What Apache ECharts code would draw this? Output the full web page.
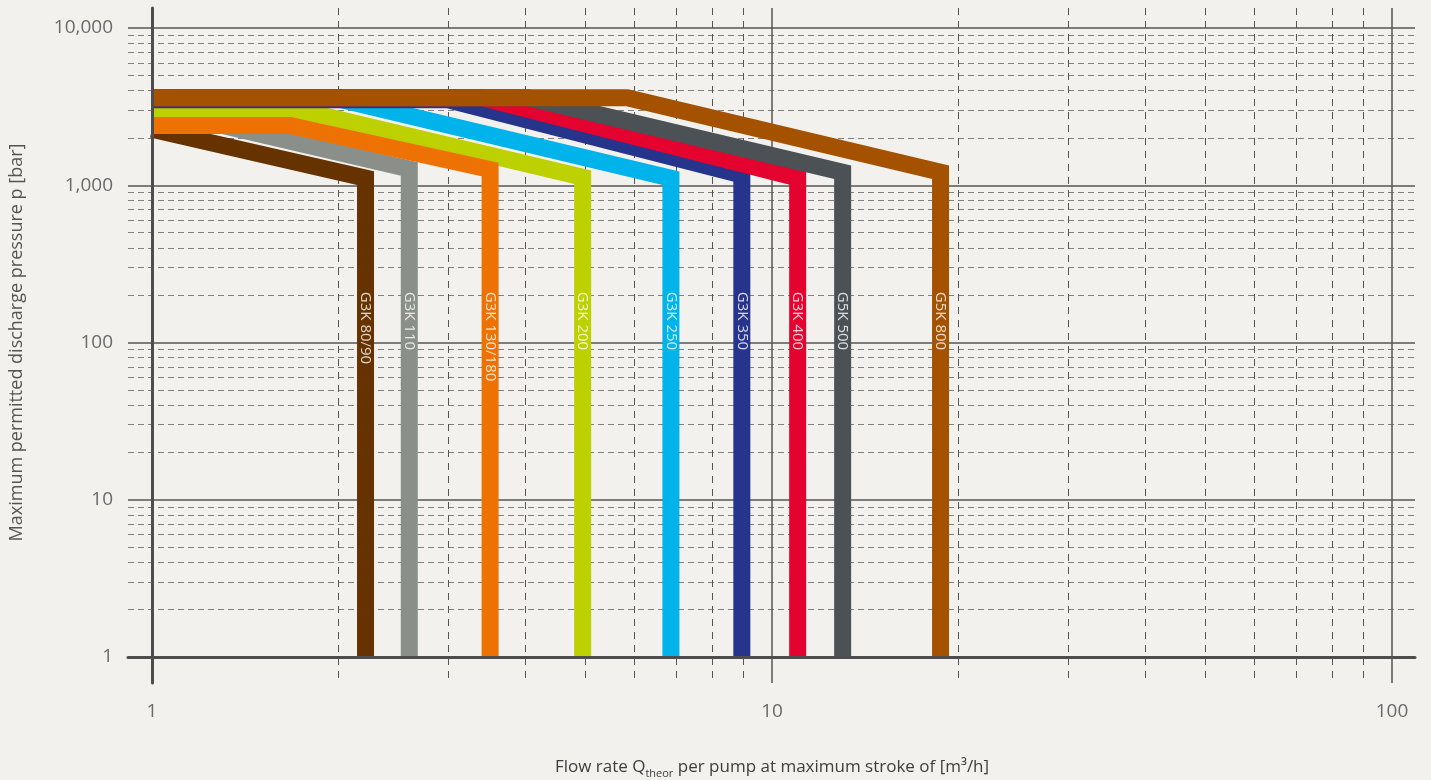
<!DOCTYPE html>
<html>
<head>
<meta charset="utf-8">
<script src="https://cdn.jsdelivr.net/npm/echarts@6/dist/echarts.min.js"></script>
<style>
html,body{margin:0;padding:0;background:#F2F1ED;}
#c{width:1431px;height:780px;}
</style>
</head>
<body>
<div id="c"></div>
<script>
// ---- data ----
const models = ['G3K 80/90', 'G3K 110', 'G3K 130/180', 'G3K 200', 'G3K 250', 'G3K 350', 'G3K 400', 'G5K 500', 'G5K 800'];
const startPressure = [2270, 2400, 2400, 2800, 3600, 3500, 3600, 3600, 3600];   // bar at Q = 1
const kneeFlow = [1, 1.3, 1.67, 1.87, 1.96, 3.0, 3.41, 4.04, 5.84];             // end of constant-pressure part
const maxFlow = [2.21, 2.6, 3.51, 4.95, 6.87, 8.94, 11.0, 13.0, 18.7];          // m3/h
const pressureAtMaxFlow = [1110, 1270, 1260, 1125, 1110, 1160, 1110, 1210, 1210]; // bar
const minPressure = 1;
const xTicks = [1, 10, 100];
const yTicks = [1, 10, 100, 1000, 10000];

// ---- styles ----
const colors = ['#663300', '#8A9089', '#EE7203', '#BDD000', '#00B4EB', '#27348B', '#E4032E', '#4B5155', '#A45200'];
const drawOrder = [1, 0, 3, 2, 4, 5, 6, 7, 8];
const labelPressure = 210;
const BAND = 17;

const series = drawOrder.map(i => {
  const pts = [[xTicks[0], startPressure[i]]];
  if (kneeFlow[i] > xTicks[0]) pts.push([kneeFlow[i], startPressure[i]]);
  pts.push([maxFlow[i], pressureAtMaxFlow[i]]);
  pts.push([maxFlow[i], minPressure]);
  return {
    type: 'line', name: models[i], xAxisIndex: 0, yAxisIndex: 0,
    data: pts, symbol: 'none', silent: true, clip: false,
    lineStyle: { color: colors[i], width: BAND, join: 'miter', cap: 'butt', miterLimit: 20 },
    z: 2
  };
});

series.push({
  type: 'scatter', xAxisIndex: 0, yAxisIndex: 0, symbolSize: 1, silent: true, z: 4,
  itemStyle: { color: 'rgba(0,0,0,0)' },
  data: models.map((m, i) => [maxFlow[i], labelPressure, m]),
  label: {
    show: true, position: 'inside', rotate: -90, align: 'left', verticalAlign: 'middle',
    color: '#ffffff', fontSize: 15, fontFamily: 'Open Sans',
    formatter: p => p.data[2]
  }
});

const W = 1431, H = 780;
const chart = echarts.init(document.getElementById('c'), null, { renderer: 'canvas', width: W, height: H });

const option = {
  backgroundColor: '#F2F1ED',
  animation: false,
  grid: [
    { left: 152, right: 39, top: 28, bottom: 123, containLabel: false, outerBoundsMode: 'none' },
    { left: 128, right: 16, top: 28, bottom: 123, containLabel: false, outerBoundsMode: 'none' },
    { left: 152, right: 39, top: 8, bottom: 97, containLabel: false, outerBoundsMode: 'none' }
  ],
  xAxis: [
    {
      gridIndex: 0, type: 'log', logBase: 10, min: xTicks[0], max: xTicks[xTicks.length - 1],
      axisLine: { show: false }, axisTick: { show: false }, splitLine: { show: false },
      axisLabel: { show: true, margin: 45, color: '#6a6a6a', fontSize: 19, fontFamily: 'Open Sans',
        formatter: v => xTicks.indexOf(v) >= 0 ? String(v) : '' },
      name: '{a|Flow rate Q}{s|theor}{a| per pump at maximum stroke of [m³/h]}',
      nameLocation: 'middle', nameGap: 99,
      nameTextStyle: {
        rich: {
          a: { fontSize: 17, color: '#3d3d3d', fontFamily: 'Open Sans', lineHeight: 23 },
          s: { fontSize: 11, color: '#3d3d3d', fontFamily: 'Open Sans', lineHeight: 14, verticalAlign: 'bottom' }
        }
      }
    },
    {
      gridIndex: 1, type: 'value', min: 0, max: 1, z: 5,
      axisLine: { show: true, lineStyle: { color: '#4d4d4d', width: 3 } },
      axisTick: { show: false }, axisLabel: { show: false }, splitLine: { show: false }
    },
    {
      gridIndex: 2, type: 'log', logBase: 10, min: xTicks[0], max: xTicks[xTicks.length - 1],
      axisLine: { show: false }, axisTick: { show: false }, axisLabel: { show: false },
      splitLine: { show: true, lineStyle: { color: '#555555', width: 1.5 } },
      minorTick: { show: false, splitNumber: 9 },
      minorSplitLine: { show: true, lineStyle: { color: '#555555', width: 1, type: [7, 6] } }
    }
  ],
  yAxis: [
    {
      gridIndex: 0, type: 'log', logBase: 10, min: yTicks[0], max: yTicks[yTicks.length - 1],
      axisLine: { show: false }, axisTick: { show: false }, splitLine: { show: false },
      axisLabel: { show: true, margin: 39, color: '#6a6a6a', fontSize: 19, fontFamily: 'Open Sans',
        padding: [6, 0, 0, 0],
        formatter: v => yTicks.indexOf(v) >= 0 ? v.toLocaleString('en-US') : '' },
      name: 'Maximum permitted discharge pressure p [bar]',
      nameLocation: 'middle', nameGap: 126,
      nameTextStyle: { fontSize: 18, color: '#555555', fontFamily: 'Open Sans' }
    },
    {
      gridIndex: 1, type: 'log', logBase: 10, min: yTicks[0], max: yTicks[yTicks.length - 1],
      axisLine: { show: false }, axisTick: { show: false }, axisLabel: { show: false },
      splitLine: { show: true, lineStyle: { color: '#555555', width: 1.5 } },
      minorTick: { show: false, splitNumber: 9 },
      minorSplitLine: { show: true, lineStyle: { color: '#808080', width: 1.2, type: [6, 4] } }
    },
    {
      gridIndex: 2, type: 'value', min: 0, max: 1, z: 5,
      axisLine: { show: true, lineStyle: { color: '#4d4d4d', width: 3 } },
      axisTick: { show: false }, axisLabel: { show: false }, splitLine: { show: false }
    }
  ],
  series: series
};
chart.setOption(option);
</script>
</body>
</html>
